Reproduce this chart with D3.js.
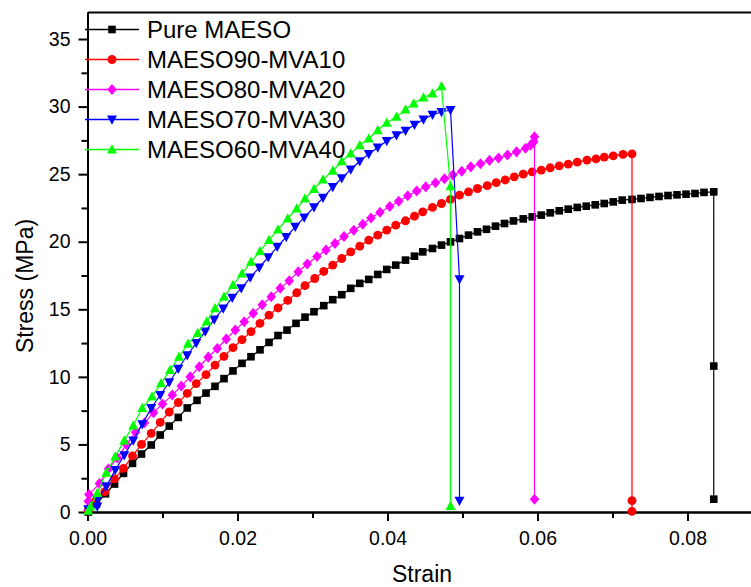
<!DOCTYPE html>
<html>
<head>
<meta charset="utf-8">
<script src="https://d3js.org/d3.v7.min.js"></script>
<style>
	body { margin: 0; background: #fff; }
	svg { display: block; font-family: "Liberation Sans", Arial, sans-serif; }
	.axis path, .axis line { stroke: #000; stroke-width: 2; }
	.axis text { font-size: 19.5px; fill: #000; }
</style>
</head>
<body>
<div class="chart-area"></div>
<script>
// [strain, stress (MPa)]
var pureMaeso = [
	[0.0001, 0.0], [0.0012, 0.6], [0.0024, 1.35], [0.0036, 2.07], [0.0048, 2.86],
	[0.0060, 3.6], [0.0072, 4.29], [0.0085, 4.96], [0.0097, 5.70], [0.0109, 6.36],
	[0.0121, 7.00], [0.0133, 7.70], [0.0146, 8.26], [0.0158, 8.80], [0.0170, 9.30],
	[0.0182, 9.87], [0.0194, 10.44], [0.0206, 11.00], [0.0218, 11.49], [0.0230, 12.00],
	[0.0242, 12.55], [0.0254, 13.06], [0.0266, 13.46], [0.0278, 13.96], [0.0290, 14.42],
	[0.0302, 14.82], [0.0315, 15.27], [0.0327, 15.71], [0.0339, 16.08], [0.0351, 16.55],
	[0.0363, 16.92], [0.0375, 17.21], [0.0387, 17.58], [0.0399, 17.95], [0.0411, 18.27],
	[0.0424, 18.64], [0.0436, 18.93], [0.0447, 19.25], [0.0460, 19.50], [0.0472, 19.75],
	[0.0484, 19.99], [0.0496, 20.24], [0.0508, 20.49], [0.0520, 20.73], [0.0532, 20.92],
	[0.0544, 21.15], [0.0556, 21.35], [0.0568, 21.54], [0.0581, 21.69], [0.0593, 21.84],
	[0.0605, 21.97], [0.0617, 22.14], [0.0629, 22.29], [0.0641, 22.41], [0.0653, 22.54],
	[0.0665, 22.63], [0.0677, 22.73], [0.0689, 22.83], [0.0701, 22.95], [0.0713, 23.08],
	[0.0726, 23.13], [0.0738, 23.20], [0.0750, 23.28], [0.0762, 23.35], [0.0774, 23.42],
	[0.0786, 23.47], [0.0798, 23.52], [0.0810, 23.57], [0.0822, 23.65], [0.0835, 23.69],
	[0.0835, 10.8], [0.0835, 0.95]
];
var maeso90Mva10 = [
	[0.0001, 0.1], [0.0010, 0.76], [0.0023, 1.50], [0.0036, 2.45], [0.0048, 3.23],
	[0.0060, 4.15], [0.0072, 5.00], [0.0085, 5.82], [0.0097, 6.63], [0.0109, 7.40],
	[0.0121, 8.10], [0.0133, 8.78], [0.0145, 9.50], [0.0158, 10.17], [0.0170, 10.87],
	[0.0182, 11.52], [0.0194, 12.16], [0.0206, 12.75], [0.0218, 13.34], [0.0230, 13.96],
	[0.0242, 14.57], [0.0254, 15.10], [0.0267, 15.66], [0.0279, 16.22], [0.0290, 16.75],
	[0.0303, 17.28], [0.0315, 17.80], [0.0327, 18.27], [0.0339, 18.76], [0.0351, 19.25],
	[0.0363, 19.67], [0.0375, 20.12], [0.0387, 20.49], [0.0399, 20.86], [0.0411, 21.23],
	[0.0424, 21.55], [0.0436, 21.89], [0.0447, 22.21], [0.0460, 22.54], [0.0472, 22.83],
	[0.0484, 23.13], [0.0496, 23.45], [0.0508, 23.69], [0.0520, 23.94], [0.0533, 24.15],
	[0.0545, 24.37], [0.0557, 24.57], [0.0569, 24.80], [0.0581, 25.00], [0.0593, 25.17],
	[0.0605, 25.30], [0.0617, 25.47], [0.0629, 25.61], [0.0641, 25.74], [0.0653, 25.89],
	[0.0666, 26.04], [0.0678, 26.13], [0.0689, 26.26], [0.0701, 26.35], [0.0714, 26.46],
	[0.0726, 26.50], [0.0726, 0.84], [0.0726, 0.05]
];
var maeso80Mva20 = [
	[0.0001, 0.15], [0.0001, 0.80], [0.0002, 1.30], [0.0016, 2.10], [0.0028, 3.20],
	[0.0040, 4.00], [0.0052, 5.00], [0.0064, 5.90], [0.0076, 6.60], [0.0088, 7.35],
	[0.0100, 8.00], [0.0113, 8.65], [0.0125, 9.32], [0.0137, 10.00], [0.0149, 10.75],
	[0.0161, 11.46], [0.0173, 12.10], [0.0185, 12.80], [0.0197, 13.46], [0.0209, 14.08],
	[0.0221, 14.70], [0.0233, 15.33], [0.0245, 15.93], [0.0257, 16.55], [0.0269, 17.12],
	[0.0281, 17.78], [0.0293, 18.35], [0.0306, 18.90], [0.0318, 19.38], [0.0330, 19.87],
	[0.0342, 20.38], [0.0355, 20.85], [0.0367, 21.30], [0.0378, 21.75], [0.0390, 22.18],
	[0.0403, 22.60], [0.0415, 23.00], [0.0427, 23.40], [0.0439, 23.75], [0.0451, 24.06],
	[0.0464, 24.36], [0.0476, 24.66], [0.0487, 24.93], [0.0499, 25.22], [0.0511, 25.54],
	[0.0524, 25.77], [0.0536, 26.02], [0.0548, 26.20], [0.0560, 26.42], [0.0572, 26.65],
	[0.0584, 26.92], [0.0591, 27.15], [0.0595, 27.39], [0.0596, 27.76], [0.0596, 0.95]
];
var maeso70Mva30 = [
	[0.0001, 0.2], [0.0013, 0.4], [0.0013, 0.9], [0.0025, 1.9], [0.0037, 3.1],
	[0.0049, 4.2], [0.0061, 5.3], [0.0073, 6.5], [0.0085, 7.7], [0.0097, 8.65],
	[0.0109, 9.6], [0.0121, 10.6], [0.0133, 11.6], [0.0145, 12.5], [0.0157, 13.35],
	[0.0169, 14.25], [0.0181, 15.05], [0.0193, 15.85], [0.0205, 16.55], [0.0217, 17.35],
	[0.0229, 18.10], [0.0241, 18.85], [0.0253, 19.62], [0.0265, 20.35], [0.0277, 21.10],
	[0.0289, 21.80], [0.0302, 22.55], [0.0314, 23.25], [0.0327, 24.05], [0.0339, 24.70],
	[0.0351, 25.35], [0.0363, 25.95], [0.0375, 26.50], [0.0387, 26.97], [0.0399, 27.45],
	[0.0412, 27.88], [0.0424, 28.22], [0.0436, 28.65], [0.0448, 29.05], [0.0460, 29.40],
	[0.0472, 29.60], [0.0484, 29.75], [0.0496, 17.23], [0.0496, 0.84]
];
var maeso60Mva40 = [
	[0.0001, 0.1], [0.0004, 0.4], [0.0013, 1.4], [0.0025, 2.9], [0.0037, 4.1],
	[0.0049, 5.3], [0.0061, 6.4], [0.0073, 7.7], [0.0086, 8.55], [0.0098, 9.52],
	[0.0110, 10.5], [0.0122, 11.49], [0.0134, 12.45], [0.0147, 13.25], [0.0159, 14.1],
	[0.0170, 15.07], [0.0182, 15.93], [0.0194, 16.79], [0.0206, 17.65], [0.0218, 18.51],
	[0.0230, 19.3], [0.0242, 20.12], [0.0254, 20.91], [0.0267, 21.72], [0.0279, 22.46],
	[0.0290, 23.2], [0.0302, 23.9], [0.0314, 24.6], [0.0327, 25.25], [0.0339, 25.95],
	[0.0351, 26.53], [0.0363, 27.14], [0.0375, 27.64], [0.0387, 28.25], [0.0399, 28.8],
	[0.0412, 29.24], [0.0424, 29.79], [0.0435, 30.23], [0.0448, 30.67], [0.0460, 30.97],
	[0.0472, 31.5], [0.0484, 24.11], [0.0484, 0.44]
];
var seriesNames = ['Pure MAESO', 'MAESO90-MVA10', 'MAESO80-MVA20', 'MAESO70-MVA30', 'MAESO60-MVA40'];
var xTicks = [0, 0.02, 0.04, 0.06, 0.08];
var xMinorTicks = [0.01, 0.03, 0.05, 0.07, 0.09];
var yTicks = [0, 5, 10, 15, 20, 25, 30, 35];
var yMinorTicks = [2.5, 7.5, 12.5, 17.5, 22.5, 27.5, 32.5];

var width = 751;
var height = 587;
var svg = d3.select('.chart-area').append('svg')
	.attr('width', width)
	.attr('height', height);

var x = d3.scaleLinear().domain([0, 0.09]).range([87.5, 762.5]);
var y = d3.scaleLinear().domain([0, 37]).range([512, 12]);

// marker shapes, sized to look like the origin ones
var triUp = {
	draw: function(ctx, size) {
		var r = Math.sqrt(size) / 2;
		ctx.moveTo(0, -r * 1.05);
		ctx.lineTo(r, r * 0.8);
		ctx.lineTo(-r, r * 0.8);
		ctx.closePath();
	}
};
var triDown = {
	draw: function(ctx, size) {
		var r = Math.sqrt(size) / 2;
		ctx.moveTo(0, r * 1.05);
		ctx.lineTo(r, -r * 0.8);
		ctx.lineTo(-r, -r * 0.8);
		ctx.closePath();
	}
};
var diamond = {
	draw: function(ctx, size) {
		var r = Math.sqrt(size) / 2;
		ctx.moveTo(0, -r * 1.15);
		ctx.lineTo(r, 0);
		ctx.lineTo(0, r * 1.15);
		ctx.lineTo(-r, 0);
		ctx.closePath();
	}
};

var series = [
	{ name: seriesNames[0], values: pureMaeso, color: '#000000', shape: d3.symbolSquare, size: 58 },
	{ name: seriesNames[1], values: maeso90Mva10, color: '#ff0000', shape: d3.symbolCircle, size: 62 },
	{ name: seriesNames[2], values: maeso80Mva20, color: '#ff00ff', shape: diamond, size: 92 },
	{ name: seriesNames[3], values: maeso70Mva30, color: '#0000ff', shape: triDown, size: 100 },
	{ name: seriesNames[4], values: maeso60Mva40, color: '#00ff00', shape: triUp, size: 100 }
];

// axes: bottom, left and a bare top border
var xAxis = svg.append('g')
	.attr('class', 'axis x-axis')
	.attr('transform', 'translate(0,' + y(0) + ')')
	.call(d3.axisBottom(x).tickValues(xTicks).tickSize(9).tickSizeOuter(0)
		.tickPadding(10).tickFormat(d3.format('.2f')));
svg.append('g')
	.attr('class', 'axis x-minor')
	.attr('transform', 'translate(0,' + y(0) + ')')
	.call(d3.axisBottom(x).tickValues(xMinorTicks).tickSize(6).tickSizeOuter(0).tickFormat(''));

var yAxis = svg.append('g')
	.attr('class', 'axis y-axis')
	.attr('transform', 'translate(' + x(0) + ',0)')
	.call(d3.axisLeft(y).tickValues(yTicks).tickSize(9).tickSizeOuter(0).tickPadding(8));
svg.append('g')
	.attr('class', 'axis y-minor')
	.attr('transform', 'translate(' + x(0) + ',0)')
	.call(d3.axisLeft(y).tickValues(yMinorTicks).tickSize(6).tickSizeOuter(0).tickFormat(''));

svg.append('g')
	.attr('class', 'axis top-border')
	.attr('transform', 'translate(0,' + y(37) + ')')
	.call(d3.axisTop(x).tickValues([]).tickSizeOuter(0));

svg.selectAll('.axis text')
	.attr('font-family', '"Liberation Sans", Arial, sans-serif');

// axis titles
svg.append('text')
	.attr('x', 422)
	.attr('y', 582)
	.attr('text-anchor', 'middle')
	.attr('font-size', 23)
	.text('Strain');
svg.append('text')
	.attr('transform', 'translate(33,286) rotate(-90)')
	.attr('text-anchor', 'middle')
	.attr('font-size', 23)
	.text('Stress (MPa)');

// curves
var line = d3.line()
	.x(function(d) { return x(d[0]); })
	.y(function(d) { return y(d[1]); });

var plot = svg.append('g').attr('class', 'curves');
series.forEach(function(s) {
	var g = plot.append('g').attr('class', 'series');
	g.append('path')
		.attr('d', line(s.values))
		.attr('fill', 'none')
		.attr('stroke', s.color)
		.attr('stroke-width', 1.2);
	g.selectAll('.pt')
		.data(s.values)
		.enter().append('path')
		.attr('class', 'pt')
		.attr('transform', function(d) { return 'translate(' + x(d[0]) + ',' + y(d[1]) + ')'; })
		.attr('d', d3.symbol().type(s.shape).size(s.size))
		.attr('fill', s.color);
});

// legend
var legend = svg.append('g').attr('class', 'legend');
series.forEach(function(s, i) {
	var ly = 29.5 + i * 30;
	legend.append('line')
		.attr('x1', 85).attr('x2', 139)
		.attr('y1', ly).attr('y2', ly)
		.attr('stroke', s.color)
		.attr('stroke-width', 1.3);
	legend.append('path')
		.attr('transform', 'translate(112,' + ly + ')')
		.attr('d', d3.symbol().type(s.shape).size(s.size))
		.attr('fill', s.color);
	legend.append('text')
		.attr('x', 147)
		.attr('y', ly + 8.5)
		.attr('font-size', 24)
		.text(s.name);
});
</script>
</body>
</html>
